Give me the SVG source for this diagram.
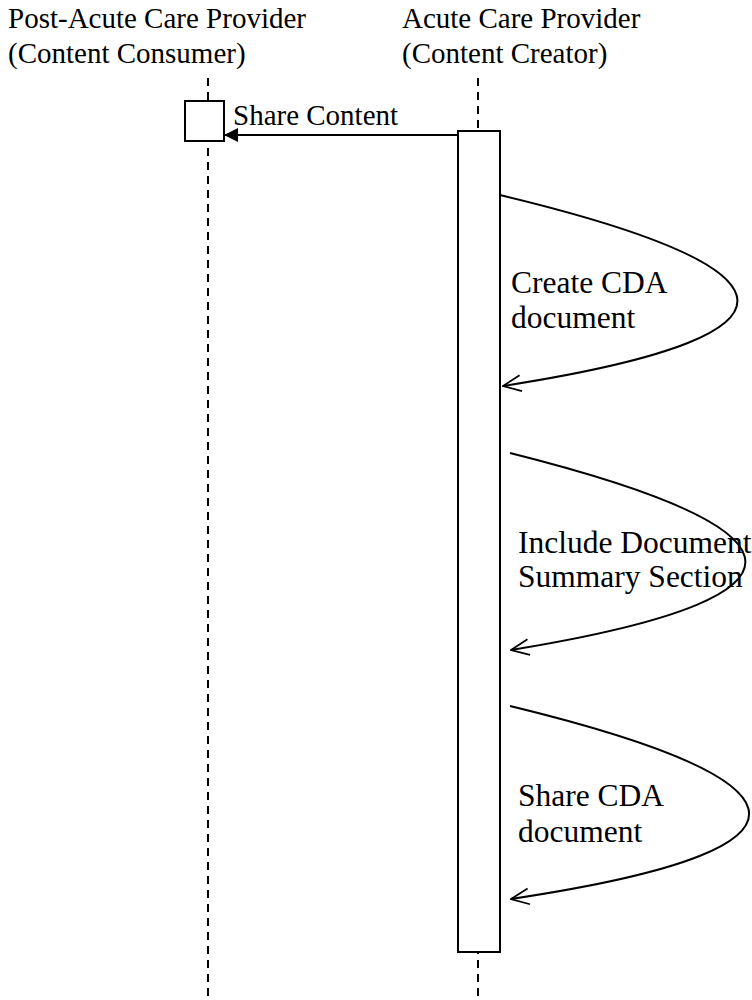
<svg xmlns="http://www.w3.org/2000/svg" width="752" height="1000" viewBox="0 0 752 1000">
<defs>
<style>
text{font-family:"Liberation Serif","Times New Roman",serif;fill:#000}
.title{font-size:29px}
.lbl{font-size:31.5px}
.life{stroke:#000;stroke-width:2;stroke-dasharray:8 6;fill:none}
.box{fill:#fff;stroke:#000;stroke-width:2}
.msg{stroke:#000;stroke-width:2;fill:none}
</style>
<marker id="filled" markerWidth="14" markerHeight="14" refX="14" refY="7" orient="auto" markerUnits="userSpaceOnUse">
<path d="M0,0 L14,7 L0,14 Z" fill="#000"/>
</marker>
<marker id="open" markerWidth="20" markerHeight="18" refX="19" refY="9" orient="auto" markerUnits="userSpaceOnUse">
<path d="M1,1 L19,9 L1,17" fill="none" stroke="#000" stroke-width="1.8"/>
</marker>
</defs>
<g id="consumer">
<text class="title" x="8" y="28">Post-Acute Care Provider</text>
<text class="title" x="8" y="63">(Content Consumer)</text>
<line class="life" x1="208" y1="78" x2="208" y2="1000"/>
<rect class="box" x="185" y="101" width="39" height="40"/>
</g>
<g id="creator">
<text class="title" x="402" y="28">Acute Care Provider</text>
<text class="title" x="402" y="63">(Content Creator)</text>
<line class="life" x1="478" y1="78" x2="478" y2="1000"/>
<rect class="box" x="458" y="131" width="42" height="821"/>
</g>
<g id="connectors">
<line class="msg" x1="458" y1="135" x2="224" y2="135" marker-end="url(#filled)"/>
<path class="msg" d="M500,195 C780,262 850,332 503,386" marker-end="url(#open)"/>
<path class="msg" d="M510,453 C785,522 860,593 511,650" marker-end="url(#open)"/>
<path class="msg" d="M510,706 C790,774 865,846 511,899" marker-end="url(#open)"/>
</g>
<g id="labels">
<text class="title" x="233" y="125">Share Content</text>
<text class="lbl" x="511" y="293">Create CDA</text>
<text class="lbl" x="511" y="328">document</text>
<text class="lbl" x="518" y="553">Include Document</text>
<text class="lbl" x="518" y="587">Summary Section</text>
<text class="lbl" x="518" y="806">Share CDA</text>
<text class="lbl" x="518" y="842">document</text>
</g>
</svg>
